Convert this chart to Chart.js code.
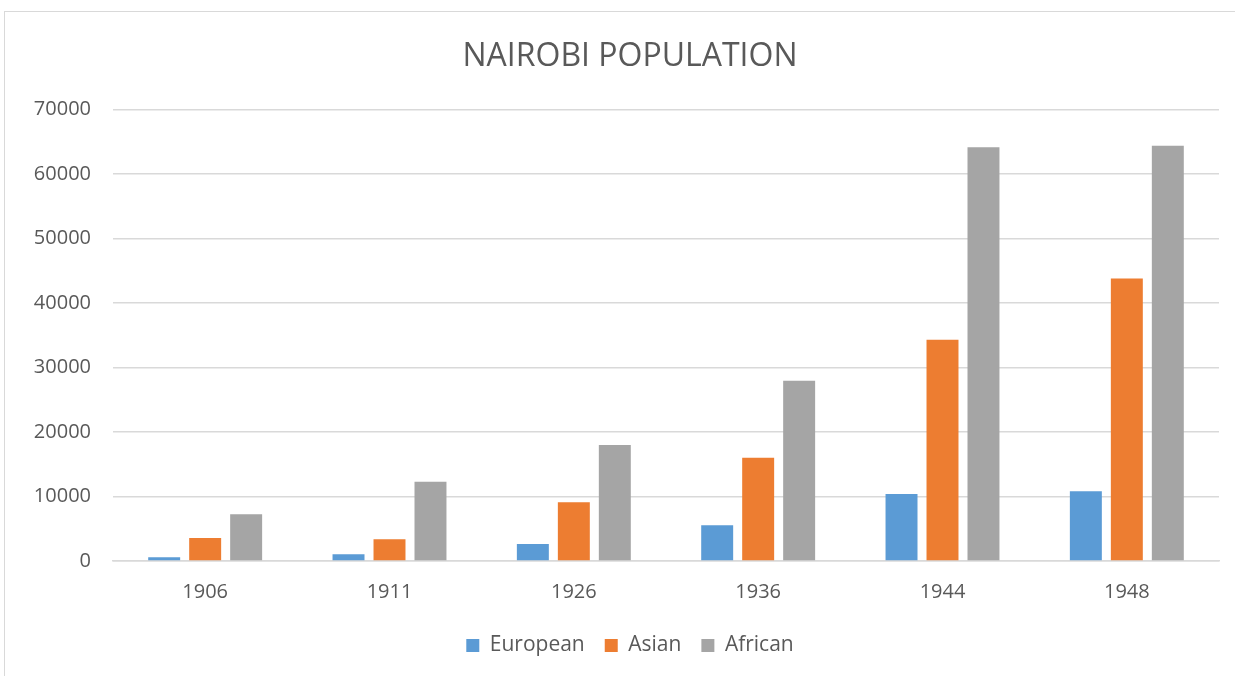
<!DOCTYPE html>
<html>
<head>
<meta charset="utf-8">
<script src="https://cdn.jsdelivr.net/npm/chart.js@4"></script>
<style>
  html, body { margin: 0; padding: 0; background: #fff; overflow: hidden; }
  #wrap {
    position: absolute; left: 4px; top: 11px;
    width: 1240px; height: 670px;
    border: 1px solid #d9d9d9; box-sizing: border-box;
  }
  #chart { position: absolute; left: 0; top: 0; }
</style>
</head>
<body>
<div id="wrap"><canvas id="chart" width="1231" height="664"></canvas></div>
<script>
// data
const years = ['1906', '1911', '1926', '1936', '1944', '1948'];
const european = [580, 1040, 2640, 5550, 10370, 10830];
const asian = [3580, 3370, 9120, 16010, 34300, 43790];
const african = [7260, 12280, 17980, 27930, 64150, 64360];
const yTicks = [0, 10000, 20000, 30000, 40000, 50000, 60000, 70000];

const textColor = '#595959';
const fontName = "'Open Sans', 'Liberation Sans', sans-serif";

// title and legend sit a bit right of the canvas centre in the original
const nudgeTitleLegend = {
    id: 'nudgeTitleLegend',
    afterLayout: function (chart) {
        const dx = 18;
        [chart.titleBlock, chart.legend].forEach(function (box) {
            if (box) { box.left += dx; box.right += dx; }
        });
    }
};

const ctx = document.getElementById('chart').getContext('2d');
const chart = new Chart(ctx, {
    type: 'bar',
    data: {
        labels: years,
        datasets: [
            { label: 'European', data: european, backgroundColor: '#5B9BD5' },
            { label: 'Asian', data: asian, backgroundColor: '#ED7D31' },
            { label: 'African', data: african, backgroundColor: '#A5A5A5' }
        ]
    },
    plugins: [nudgeTitleLegend],
    options: {
        responsive: false,
        animation: false,
        categoryPercentage: 0.667,
        barPercentage: 0.78,
        layout: { padding: { left: 0, right: 17, top: 0, bottom: 10 } },
        plugins: {
            title: {
                display: true,
                text: 'NAIROBI POPULATION',
                color: textColor,
                font: { family: fontName, size: 32, weight: 'normal' },
                padding: { top: 26, bottom: 33 }
            },
            legend: {
                position: 'bottom',
                labels: {
                    color: textColor,
                    font: { family: fontName, size: 21 },
                    boxWidth: 13,
                    boxHeight: 13,
                    padding: 20
                }
            },
            tooltip: { enabled: false }
        },
        scales: {
            x: {
                grid: { display: false, drawTicks: false },
                border: { display: true, color: '#d9d9d9', width: 1.5 },
                afterFit: function (scale) {
                    scale.height = scale.height - 8;
                },
                ticks: {
                    color: textColor,
                    font: { family: fontName, size: 20 },
                    padding: 19
                }
            },
            y: {
                min: 0,
                max: 70000,
                afterBuildTicks: function (scale) {
                    scale.ticks = yTicks.map(v => ({ value: v }));
                },
                afterFit: function (scale) {
                    scale.width = 108;
                },
                grid: { color: '#d9d9d9', lineWidth: 1.5, drawTicks: false },
                border: { display: false },
                ticks: {
                    color: textColor,
                    font: { family: fontName, size: 20 },
                    padding: 22,
                    callback: function (value) { return String(value); }
                }
            }
        }
    }
});
</script>
</body>
</html>
